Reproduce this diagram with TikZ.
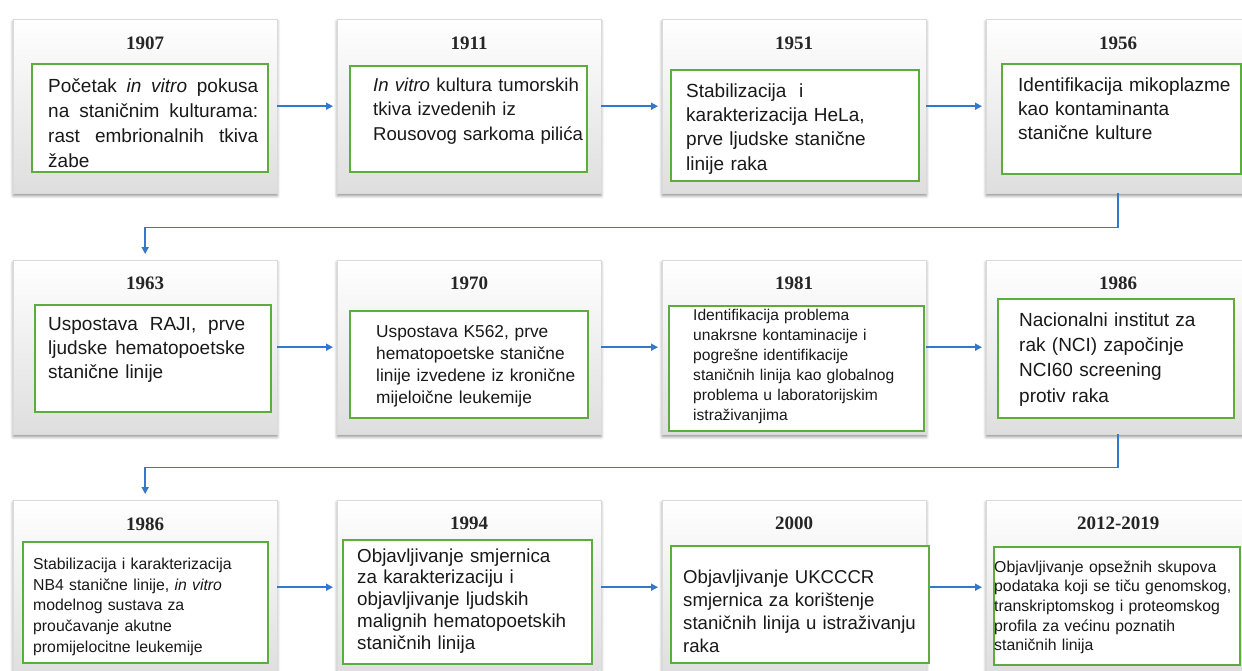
\documentclass[tikz,border=0pt]{standalone}
\usepackage{fontspec}
\setmainfont{Liberation Sans}
\newfontfamily\yearfont{Liberation Serif}
\usetikzlibrary{arrows.meta,shadows.blur}
\definecolor{gline}{RGB}{92,173,62}
\definecolor{bline}{RGB}{52,120,206}
\definecolor{cardbot}{RGB}{222,222,222}
\definecolor{cardedge}{RGB}{218,218,218}
\newcommand{\tl}{\rule{0pt}{0.8em}}
\newcommand{\jline}[2]{\leavevmode\hbox to #1{#2}}
\begin{document}
\begin{tikzpicture}[x=1pt,y=-1pt,
 card/.style={anchor=north west, inner sep=0, minimum width=264pt, minimum height=174pt,
   top color=white, bottom color=cardbot, draw=cardedge, line width=0.4pt,
   blur shadow={shadow xshift=0pt, shadow yshift=-2.5pt, shadow blur radius=3pt, shadow opacity=45}},
 gbox/.style={anchor=north west, inner sep=0, draw=gline, line width=2pt, fill=white},
 year/.style={font=\yearfont\bfseries\fontsize{19}{22}\selectfont, text=black!85, inner sep=0},
 txt/.style={anchor=north west, inner sep=0, align=left, text width=262pt, text=black!90},
 arr/.style={draw=bline, line width=1.6pt, -{Triangle[length=7pt,width=7pt]}, shorten >=4pt}
]
\useasboundingbox (0,0) rectangle (1242,670);
\clip (0,0) rectangle (1242,670);

% cards
\node[card] (c1) at (13,19) {};
\node[card] (c2) at (337,19) {};
\node[card] (c3) at (662,19) {};
\node[card] (c4) at (986,19) {};
\node[card] (c5) at (13,260) {};
\node[card] (c6) at (337,260) {};
\node[card] (c7) at (662,260) {};
\node[card] (c8) at (986,260) {};
\node[card] (c9) at (13,500) {};
\node[card] (c10) at (337,500) {};
\node[card] (c11) at (662,500) {};
\node[card] (c12) at (986,500) {};

% years
\node[year] (y1) at ([yshift=-24pt]c1.north) {1907};
\node[year] (y2) at ([yshift=-24pt]c2.north) {1911};
\node[year] (y3) at ([yshift=-24pt]c3.north) {1951};
\node[year] (y4) at ([yshift=-24pt]c4.north) {1956};
\node[year] (y5) at ([yshift=-23pt]c5.north) {1963};
\node[year] (y6) at ([yshift=-23pt]c6.north) {1970};
\node[year] (y7) at ([yshift=-23pt]c7.north) {1981};
\node[year] (y8) at ([yshift=-23pt]c8.north) {1986};
\node[year] (y9) at ([yshift=-24pt]c9.north) {1986};
\node[year] (y10) at ([yshift=-23pt]c10.north) {1994};
\node[year] (y11) at ([yshift=-23pt]c11.north) {2000};
\node[year] (y12) at ([yshift=-23pt]c12.north) {2012-2019};

% connectors
\draw[arr] (c1.east) -- (c2.west);
\draw[arr] (c2.east) -- (c3.west);
\draw[arr] (c3.east) -- (c4.west);
\draw[arr, shorten >=6pt] (c4.south) -- ++(0,34) -| (c5.north);
\draw[arr] (c5.east) -- (c6.west);
\draw[arr] (c6.east) -- (c7.west);
\draw[arr] (c7.east) -- (c8.west);
\draw[arr, shorten >=6pt] (c8.south) -- ++(0,33) -| (c9.north);
\draw[arr] (c9.east) -- (c10.west);
\draw[arr] (c10.east) -- (c11.west);
\draw[arr] (c11.east) -- (c12.west);

% green boxes
\node[gbox, minimum width=236pt, minimum height=108pt] (g1) at (31,63) {};
\node[gbox, minimum width=237pt, minimum height=106pt] (g2) at (349,65) {};
\node[gbox, minimum width=248pt, minimum height=111pt] (g3) at (670,69) {};
\node[gbox, minimum width=239pt, minimum height=110pt] (g4) at (1001,63) {};
\node[gbox, minimum width=236pt, minimum height=107pt] (g5) at (34,304) {};
\node[gbox, minimum width=238pt, minimum height=107pt] (g6) at (349,310) {};
\node[gbox, minimum width=255pt, minimum height=125pt] (g7) at (668,305) {};
\node[gbox, minimum width=236pt, minimum height=119pt] (g8) at (997,298) {};
\node[gbox, minimum width=245pt, minimum height=121pt] (g9) at (22,541) {};
\node[gbox, minimum width=249pt, minimum height=124pt] (g10) at (342,539) {};
\node[gbox, minimum width=258pt, minimum height=117pt] (g11) at (670,545) {};
\node[gbox, minimum width=246pt, minimum height=118pt] (g12) at (993,546) {};

% texts
\node[txt, font=\fontsize{19}{25}\selectfont] (t1) at (48,76.8)
 {\tl\jline{210pt}{Početak\hfill\textit{in}\hfill\textit{vitro}\hfill pokusa}\\
  \jline{210pt}{na\hfill staničnim\hfill kulturama:}\\
  \jline{210pt}{rast\hfill embrionalnih\hfill tkiva}\\
  žabe};
\node[txt, font=\fontsize{18.6}{24.5}\selectfont] (t2) at (373,76.2)
 {\tl\textit{In vitro} kultura tumorskih\\ tkiva izvedenih iz\\ Rousovog sarkoma pilića};
\node[txt, font=\fontsize{19}{24.3}\selectfont] (t3) at (686,81.8)
 {\tl Stabilizacija\ \ i\\ karakterizacija HeLa,\\ prve ljudske stanične\\ linije raka};
\node[txt, font=\fontsize{19}{24}\selectfont] (t4) at (1018,75.8)
 {\tl Identifikacija mikoplazme\\ kao kontaminanta\\ stanične kulture};
\node[txt, font=\fontsize{19}{24}\selectfont] (t5) at (48,314.8)
 {\tl\jline{197pt}{Uspostava\hfill RAJI,\hfill prve}\\
  \jline{197pt}{ljudske\hfill hematopoetske}\\
  stanične linije};
\node[txt, font=\fontsize{17.3}{22}\selectfont] (t6) at (376,323.2)
 {\tl Uspostava K562, prve\\ hematopoetske stanične\\ linije izvedene iz kronične\\ mijeloične leukemije};
\node[txt, font=\fontsize{15.6}{20}\selectfont] (t7) at (693,307.5)
 {\tl Identifikacija problema\\ unakrsne kontaminacije i\\ pogrešne identifikacije\\ staničnih linija kao globalnog\\ problema u laboratorijskim\\ istraživanjima};
\node[txt, font=\fontsize{19}{25.3}\selectfont] (t8) at (1019,310.8)
 {\tl Nacionalni institut za\\ rak (NCI) započinje\\ NCI60 screening\\ protiv raka};
\node[txt, font=\fontsize{15.8}{20.8}\selectfont] (t9) at (33,556.4)
 {\tl Stabilizacija i karakterizacija\\ NB4 stanične linije, \textit{in vitro}\\ modelnog sustava za\\ proučavanje akutne\\ promijelocitne leukemije};
\node[txt, font=\fontsize{18.8}{21.7}\selectfont] (t10) at (357,547)
 {\tl Objavljivanje smjernica\\ za karakterizaciju i\\ objavljivanje ljudskih\\ malignih hematopoetskih\\ staničnih linija};
\node[txt, font=\fontsize{18.6}{23}\selectfont] (t11) at (683,568.1)
 {\tl Objavljivanje UKCCCR\\ smjernica za korištenje\\ staničnih linija u istraživanju\\ raka};
\node[txt, font=\fontsize{15.8}{19.6}\selectfont] (t12) at (994,559.4)
 {\tl Objavljivanje opsežnih skupova\\ podataka koji se tiču genomskog,\\ transkriptomskog i proteomskog\\ profila za većinu poznatih\\ staničnih linija};
\end{tikzpicture}
\end{document}
